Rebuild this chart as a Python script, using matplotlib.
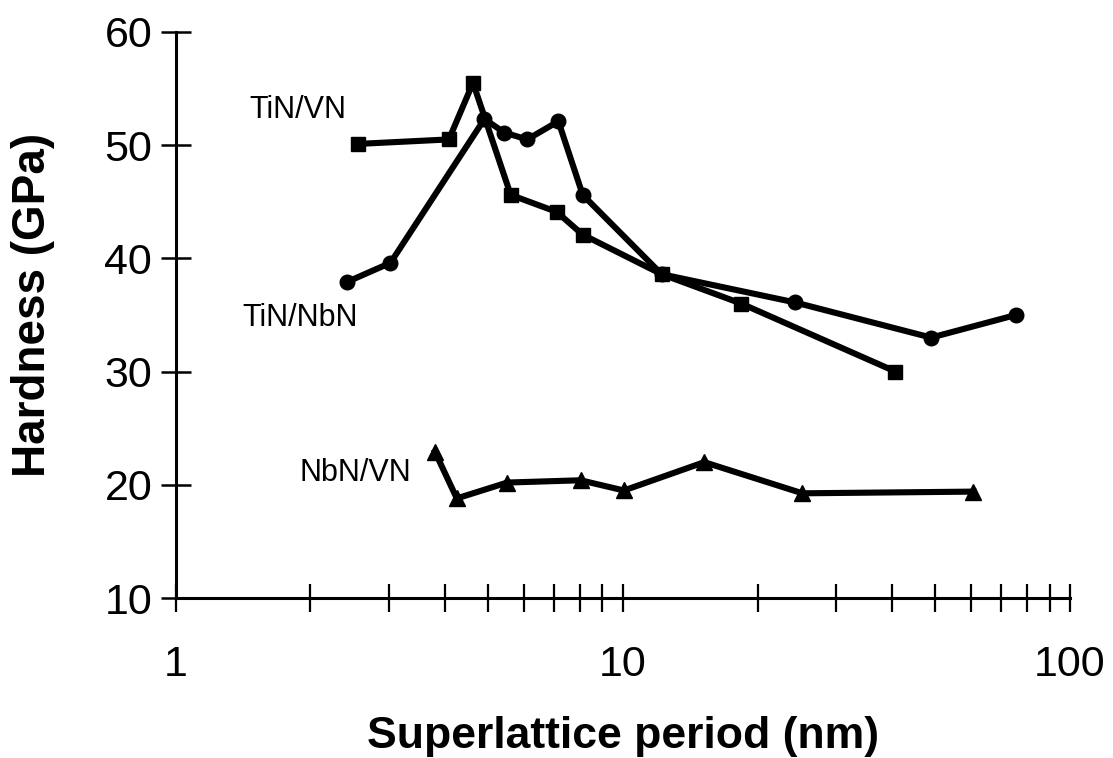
import matplotlib
matplotlib.use("Agg")
import matplotlib.pyplot as plt
from matplotlib.ticker import LogLocator, FixedLocator, NullFormatter

plt.rcParams['font.family'] = ['Liberation Sans', 'DejaVu Sans']

# Hardness vs. superlattice period for three nitride superlattices
tinvn_period = [2.55, 4.08, 4.62, 5.61, 7.11, 8.12, 12.2, 18.4, 40.7]
tinvn_hardness = [50.1, 50.5, 55.5, 45.6, 44.1, 42.1, 38.6, 36.0, 30.0]

tinnbn_period = [2.41, 3.02, 4.90, 5.43, 6.11, 7.17, 8.13, 12.2, 24.3, 48.9, 75.7]
tinnbn_hardness = [37.9, 39.6, 52.3, 51.1, 50.5, 52.1, 45.6, 38.6, 36.1, 33.0, 35.0]

nbnvn_period = [3.80, 4.25, 5.51, 8.04, 10.05, 15.2, 25.2, 60.8]
nbnvn_hardness = [22.9, 18.8, 20.2, 20.4, 19.5, 22.0, 19.25, 19.4]

series_names = ["TiN/VN", "TiN/NbN", "NbN/VN"]
y_ticks = [10, 20, 30, 40, 50, 60]
x_ticks = [1, 10, 100]

fig = plt.figure(figsize=(11.13, 7.58), dpi=100)
ax = fig.add_axes([0.158, 0.211, 0.8034, 0.747])

line_kw = dict(color="black", linewidth=4.4, clip_on=False)
ax.plot(tinvn_period, tinvn_hardness, marker="s", markersize=10.5, **line_kw)
ax.plot(tinnbn_period, tinnbn_hardness, marker="o", markersize=10.5, **line_kw)
ax.plot(nbnvn_period, nbnvn_hardness, marker="^", markersize=12, **line_kw)

ax.set_xscale("log")
ax.set_xlim(1, 100)
ax.set_ylim(10, 60)

ax.xaxis.set_major_locator(FixedLocator(x_ticks))
ax.set_xticklabels([str(v) for v in x_ticks])
ax.xaxis.set_minor_locator(LogLocator(base=10, subs=range(2, 10)))
ax.xaxis.set_minor_formatter(NullFormatter())
ax.set_yticks(y_ticks)
ax.set_yticklabels([str(v) for v in y_ticks])

for side in ("top", "right"):
    ax.spines[side].set_visible(False)
for side in ("left", "bottom"):
    ax.spines[side].set_linewidth(2.2)

ax.tick_params(axis="x", which="both", direction="inout", length=20, width=1.6,
               labelsize=31, pad=24)
ax.tick_params(axis="y", which="major", direction="inout", length=22, width=1.8,
               labelsize=31, pad=6)

ax.set_xlabel("Superlattice period (nm)", fontsize=32, fontweight="bold", labelpad=22)
ax.set_ylabel("Hardness (GPa)", fontsize=33, fontweight="bold")
ax.yaxis.set_label_coords(-0.135, 0.518)

label_kw = dict(fontsize=22, color="black", ha="left", va="center")
ax.text(1.46, 53.1, series_names[0], **label_kw)
ax.text(1.41, 34.7, series_names[1], **label_kw)
ax.text(1.89, 21.0, series_names[2], **label_kw)

fig.savefig("out.png", dpi=100)
